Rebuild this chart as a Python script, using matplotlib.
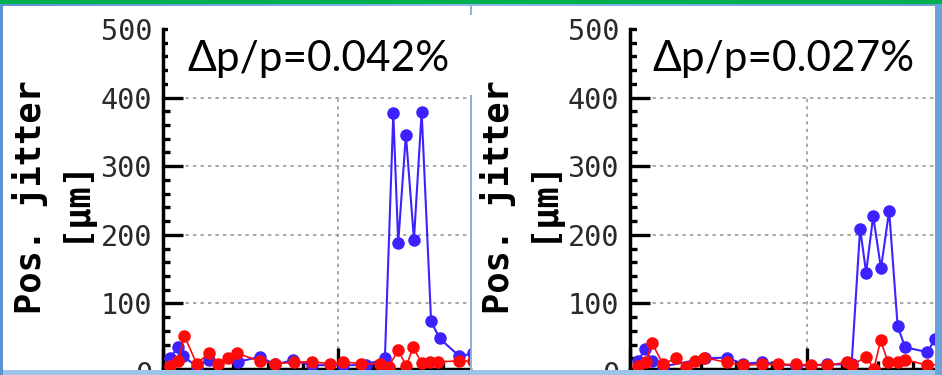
import numpy as np
import matplotlib
matplotlib.use("Agg")
import matplotlib.pyplot as plt
from matplotlib.patches import Rectangle
from matplotlib.ticker import MultipleLocator

# ---------------- data ----------------
titles = ["\u0394p/p=0.042%", "\u0394p/p=0.027%"]
ylabel_line1 = "Pos. jitter"
ylabel_line2 = "[\u03bcm]"
y_ticks = [0, 100, 200, 300, 400, 500]

blue_L_x = [2, 4.4, 5.8, 9.6, 13, 21.5, 27.7, 32, 37, 42.5, 51.5, 58, 63.4,
            65.8, 67.2, 69.4, 71.7, 73.9, 76.6, 79, 84.7, 88.5]
blue_L_v = [21, 36, 23, 8, 17, 15, 22, 11, 17, 10, 10, 10, 20,
            377, 188, 346, 193, 379, 74, 49, 23, 27]

red_L_x = [2, 4.4, 6.1, 9.6, 13, 15.8, 18.5, 21.2, 27.7, 32, 37.4, 42.5, 47.7,
           51.5, 56.5, 62, 64.5, 67.2, 69.5, 71.5, 73.9, 76.3, 78.7, 84.7, 88.5]
red_L_v = [9, 16, 53, 12, 27, 11, 21, 27, 16, 12, 14, 15, 12,
           15, 12, 12, 8, 32, 9, 36, 13, 14, 15, 16, 16]

blue_R_x = [2.3, 4.2, 6.3, 9.4, 21.2, 27.3, 31.8, 37.2, 46.9, 55.6, 62.6,
            65, 66.7, 68.7, 70.9, 73.2, 75.6, 77.7, 84, 86.2, 88]
blue_R_v = [16, 33, 16, 8, 20, 21, 12, 14, 9, 11, 11,
            209, 145, 227, 151, 235, 67, 36, 29, 48, 55]

red_R_x = [2.3, 4.5, 6.1, 9.4, 13, 15.7, 18.4, 21, 27.3, 31.8, 37.2, 41.9, 46.9,
           51.1, 55.7, 61.2, 62.6, 66.7, 68.9, 70.8, 72.9, 75.6, 77.8, 83.8, 88]
red_R_v = [9, 14, 43, 11, 21, 7, 16, 21, 14, 10, 11, 11, 11,
           10, 10, 14, 10, 22, 5, 46, 14, 14, 18, 10, 11]

# ---------------- figure ----------------
W, H = 942, 375
fig = plt.figure(figsize=(W / 100, H / 100), dpi=100)

def rect(x0, y0, x1, y1):
    return [x0 / W, 1 - y1 / H, (x1 - x0) / W, (y1 - y0) / H]

# background (slide)
bg = fig.add_axes([0, 0, 1, 1], zorder=0)
grad = np.linspace(0, 1, 256)[None, :]
bg.imshow(grad, extent=[0, W, H, 0], aspect="auto",
          cmap=matplotlib.colors.LinearSegmentedColormap.from_list(
              "g", ["#5f95d2", "#8fb8e4", "#6aa0d8"]))
bg.set_xlim(0, W)
bg.set_ylim(H, 0)
bg.axis("off")
bg.add_patch(Rectangle((0, 0), W, 3.5, color="#00b050", lw=0))
bg.add_patch(Rectangle((3, 6), 467, 364, color="white", lw=0))
bg.add_patch(Rectangle((472, 6), 463, 364, color="white", lw=0))

BLUE = "#3c22ff"
RED = "#ff0a0a"

panels = [
    dict(x0=163, x1=470, bx=blue_L_x, bv=blue_L_v, rx=red_L_x, rv=red_L_v, xs=3.5),
    dict(x0=630, x1=935, bx=blue_R_x, bv=blue_R_v, rx=red_R_x, rv=red_R_v, xs=3.54),
]

for p in panels:
    ax = fig.add_axes(rect(p["x0"], 29, p["x1"], 372), zorder=1)
    ax.patch.set_alpha(0)
    ax.set_xlim(0, (p["x1"] - p["x0"]) / p["xs"])
    ax.set_ylim(0, 500)
    ax.plot(p["bx"], p["bv"], color=BLUE, lw=1.5, marker="o", ms=8, zorder=3)
    ax.plot(p["rx"], p["rv"], color=RED, lw=1.2, marker="o", ms=8, zorder=4)
    ax.set_yticks(y_ticks)
    ax.yaxis.set_minor_locator(MultipleLocator(20))
    ax.xaxis.set_major_locator(MultipleLocator(50))
    ax.xaxis.set_minor_locator(MultipleLocator(10))
    ax.tick_params(axis="y", which="major", direction="in", length=14.5, width=2.4,
                   labelsize=20.5, labelcolor="#2a2a2a", pad=8)
    ax.tick_params(axis="y", which="minor", direction="in", length=5, width=2.4)
    ax.tick_params(axis="x", which="major", direction="in", length=15, width=2.4,
                   labelbottom=False)
    ax.tick_params(axis="x", which="minor", direction="in", length=6, width=2.4)
    for lab in ax.get_yticklabels():
        lab.set_family("DejaVu Sans Mono")
    ax.grid(True, which="major", color="#9a9a9a", linestyle=(0, (2, 2.5)), lw=1.2)
    for s in ("top", "right"):
        ax.spines[s].set_visible(False)
    for s in ("left", "bottom"):
        ax.spines[s].set_linewidth(2.5)
        ax.spines[s].set_color("black")
    ax.spines["bottom"].set_position(("outward", -2.5))

# overlay
ov = fig.add_axes([0, 0, 1, 1], zorder=2)
ov.patch.set_alpha(0)
ov.set_xlim(0, W)
ov.set_ylim(H, 0)
ov.axis("off")
ov.add_patch(Rectangle((469.5, 6), 2.5, 364, color="#86b3e3", lw=0))
ov.add_patch(Rectangle((167.5, 15), 305, 79.5, color="white", lw=0))
ov.add_patch(Rectangle((637, 15), 298, 79.5, color="white", lw=0))
ov.add_patch(Rectangle((0, 370), W, 5, color="#9dc3e8", lw=0))
ov.add_patch(Rectangle((0, 0), 3, H, color="#5b93d3", lw=0))
ov.add_patch(Rectangle((935, 3.5), 7, H, color="#6aa2da", lw=0))
ov.add_patch(Rectangle((0, 0), W, 3.5, color="#00b050", lw=0))

ov.text(318, 59, titles[0], fontsize=30.5, family="Lato", ha="center", va="center")
ov.text(783, 59, titles[1], fontsize=30.5, family="Lato", ha="center", va="center")

for xl1, xl2 in [(30, 74), (498, 542)]:
    ov.text(xl1, 197, ylabel_line1, rotation=90, fontsize=25.5, family="DejaVu Sans Mono",
            weight="bold", ha="center", va="center")
    ov.text(xl2, 199, ylabel_line2, rotation=90, fontsize=25.5, family="DejaVu Sans Mono",
            weight="bold", ha="center", va="center")

fig.savefig("out.png", dpi=100)
